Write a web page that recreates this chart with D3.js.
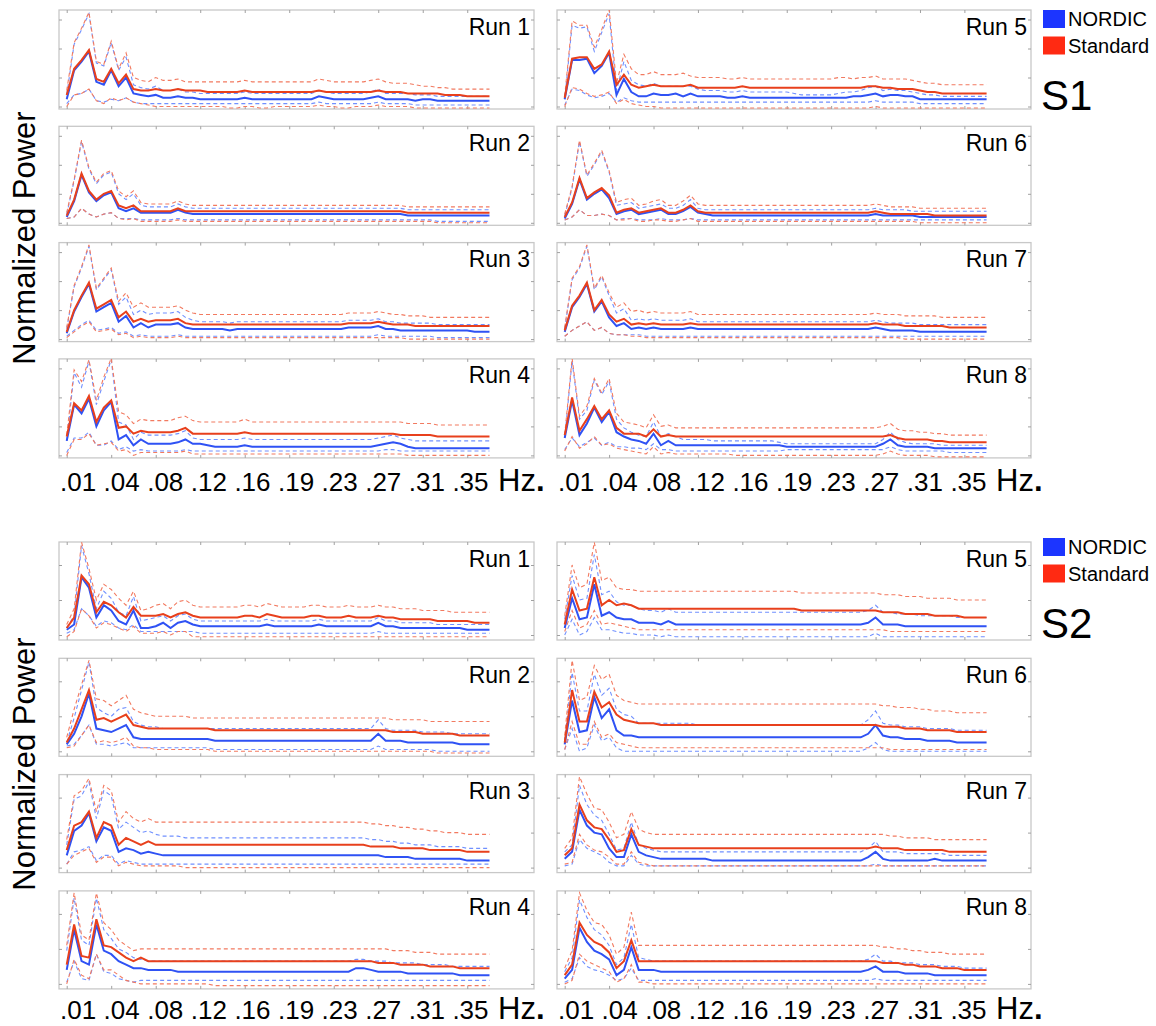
<!DOCTYPE html>
<html>
<head>
<meta charset="utf-8">
<script src="https://cdn.jsdelivr.net/npm/d3@7"></script>
<style>
  body { margin: 0; background: #fff; }
  text { font-family: "Liberation Sans", Arial, sans-serif; }
</style>
</head>
<body>
<div id="chart"></div>
<script>
// x tick labels (Hz), run names, legend
const xTickLabels = [".01", ".04", ".08", ".12", ".16", ".19", ".23", ".27", ".31", ".35"];
const runNames = ["Run 1", "Run 2", "Run 3", "Run 4", "Run 5", "Run 6", "Run 7", "Run 8"];
const methods = ["NORDIC", "Standard"];
const subjects = ["S1", "S2"];

// ---- S1 : normalized power per frequency bin (58 bins), runs 1..8 ----
const s1NordicMean = [
  [5,25,31,38,17,15,25,14,20,9, 8,7,8,6,6,7,6,6,5,5, 5,5,5,5,6,5,5,5,5,5, 5,5,5,5,7,6,5,5,5,5, 5,6,7,5,5,5,5,4,5,5, 4,4,4,4,4,4,4,4],
  [4,15,33,21,15,19,21,10,8,10, 7,7,7,7,7,9,7,6,6,6, 6,6,6,6,6,6,6,6,6,6, 6,6,6,6,6,6,6,6,6,6, 6,6,6,6,6,6,5,5,5,5, 5,5,5,5,5,5,5,5],
  [4,19,29,38,19,22,25,12,16,8, 11,8,10,10,10,11,8,7,7,7, 7,7,6,7,7,7,7,7,7,7, 7,7,7,7,7,7,7,7,8,8, 8,8,9,7,7,6,6,6,6,6, 6,6,6,6,6,5,5,5],
  [10,35,29,39,20,31,37,11,14,7, 11,8,8,8,8,9,11,8,8,7, 6,6,6,6,7,6,6,6,6,6, 6,6,6,6,6,6,6,6,6,6, 6,6,7,8,9,8,6,5,5,5, 5,5,5,5,5,5,5,5],
  [5,32,32,33,23,28,37,8,19,10, 7,7,9,8,8,9,7,9,7,7, 7,7,6,6,7,6,6,6,6,6, 6,6,6,6,6,6,6,6,6,7, 7,8,9,7,8,8,7,7,5,5, 5,5,5,5,5,5,5,5],
  [3,13,30,16,20,23,17,6,8,9, 6,7,8,9,6,6,8,11,7,6, 5,5,5,5,5,5,5,5,5,5, 5,5,5,5,5,5,5,5,5,5, 5,5,6,5,5,5,5,5,4,4, 4,4,4,4,4,4,4,4],
  [5,22,29,38,19,26,15,9,11,7, 8,7,8,7,7,7,7,8,7,7, 7,7,7,7,7,7,7,7,7,7, 7,7,7,7,7,7,7,7,7,7, 7,7,8,7,6,6,6,6,5,5, 5,5,5,5,5,5,5,5],
  [12,38,14,22,33,23,30,16,13,11, 10,8,15,7,10,7,7,7,7,7, 7,7,7,7,7,7,7,7,7,7, 6,6,6,6,6,6,6,6,6,6, 6,6,6,8,11,7,6,6,6,6, 5,5,5,5,5,5,5,5]
];
const s1NordicUpper = [
  [8,43,53,64,30,28,44,25,34,15, 13,12,14,11,11,12,10,10,9,9, 9,9,9,9,10,9,9,9,9,9, 9,9,9,9,11,10,9,9,9,9, 9,10,12,9,9,9,9,8,8,8, 7,7,7,7,7,7,7,7],
  [6,29,56,37,27,33,35,20,16,20, 12,11,11,11,11,13,11,10,10,10, 10,10,10,10,10,10,10,10,10,10, 10,10,10,10,10,10,10,10,10,10, 10,10,10,10,10,10,9,9,9,9, 9,9,9,9,9,9,9,9],
  [7,36,49,64,34,41,48,24,29,17, 20,17,18,18,18,19,15,13,12,12, 12,12,11,12,12,12,12,12,12,12, 12,12,12,12,12,12,12,12,13,13, 13,13,14,12,12,11,11,11,11,11, 10,10,10,10,10,10,10,10],
  [10,57,47,65,35,51,66,23,21,11, 16,14,14,14,14,15,17,12,11,11, 11,11,11,11,12,11,11,11,11,11, 11,11,11,11,11,11,11,11,11,11, 11,11,12,13,14,12,11,10,10,10, 10,10,10,10,10,10,10,10],
  [5,56,54,55,38,51,64,11,31,18, 15,14,16,14,14,14,14,14,12,11, 11,11,10,10,11,10,10,10,10,10, 10,9,8,8,8,8,8,9,10,10, 11,13,14,11,12,11,11,10,9,8, 8,7,7,7,7,7,7,7],
  [5,24,56,32,40,49,35,12,13,14, 10,11,12,13,10,10,12,16,10,9, 9,9,9,9,9,9,9,9,9,9, 9,9,9,9,9,9,9,9,9,9, 9,9,10,9,9,9,9,8,8,8, 8,8,8,8,8,8,8,8],
  [7,41,49,64,34,43,30,18,21,13, 14,13,14,13,13,13,13,14,12,12, 12,12,12,12,12,12,12,12,12,12, 12,12,12,12,12,12,12,12,12,12, 12,12,13,12,11,11,11,11,10,10, 10,10,10,10,10,10,10,10],
  [12,65,25,31,52,42,51,25,19,16, 14,13,23,13,15,13,11,11,11,11, 10,10,10,10,10,10,10,10,10,9, 8,8,8,8,8,8,8,8,8,8, 8,8,8,11,16,11,9,8,8,8, 8,7,7,7,7,7,7,7]
];
const s1NordicLower = [
  [2,8,9,12,4,3,5,4,6,3, 2,2,2,2,2,2,2,2,2,2, 2,2,2,2,2,2,2,2,2,2, 2,2,2,2,3,2,2,2,2,2, 2,2,3,2,2,2,2,1,1,1, 1,1,1,1,1,1,1,1],
  [3,4,10,6,4,6,7,3,3,3, 2,2,2,2,2,3,2,2,2,2, 2,2,2,2,2,2,2,2,2,2, 2,2,2,2,2,2,2,2,2,2, 2,2,2,2,2,2,2,2,2,2, 1,1,1,1,1,1,1,1],
  [2,6,10,13,6,7,8,4,5,2, 3,2,2,2,2,3,2,2,2,2, 2,2,2,2,2,2,2,2,2,2, 2,2,2,2,2,2,2,2,2,2, 2,2,3,2,2,2,2,2,2,2, 1,1,1,1,1,1,1,1],
  [2,12,12,16,7,7,10,4,6,3, 4,3,3,3,3,3,4,3,3,3, 3,3,3,3,3,3,3,3,3,3, 3,3,3,3,3,3,3,3,3,3, 3,3,3,4,4,3,3,3,3,3, 3,3,3,3,3,3,3,3],
  [1,12,11,8,6,7,9,3,6,4, 3,3,3,3,3,3,3,3,3,3, 3,3,3,3,3,3,3,3,3,3, 3,3,3,3,3,3,3,3,3,3, 3,3,4,3,3,3,3,3,2,2, 2,2,2,2,2,2,2,2],
  [2,4,9,5,5,6,5,2,3,3, 2,2,2,3,2,2,2,3,2,2, 2,2,2,2,2,2,2,2,2,2, 2,2,2,2,2,2,2,2,2,2, 2,2,2,2,2,2,2,2,2,2, 2,2,2,2,2,2,2,2],
  [2,6,9,12,6,8,4,3,3,3, 3,2,2,2,2,2,2,2,2,2, 2,2,2,2,2,2,2,2,2,2, 2,2,2,2,2,2,2,2,2,2, 2,2,2,2,2,2,2,2,2,2, 2,2,2,2,2,2,2,2],
  [4,12,6,9,12,7,9,6,6,5, 5,4,8,4,4,3,3,3,3,3, 3,3,3,3,3,3,3,3,3,3, 4,4,4,4,4,4,4,4,4,4, 4,4,4,4,6,4,3,3,3,3, 3,3,2,2,2,2,2,2]
];
const s1StandardMean = [
  [8,26,32,39,19,17,26,16,22,12, 11,11,12,11,11,12,11,11,11,10, 10,10,10,10,11,10,10,10,10,10, 10,10,10,10,11,10,10,10,10,10, 10,10,11,10,10,10,9,9,9,9, 9,8,8,8,7,7,7,7],
  [5,16,34,22,16,20,22,12,10,12, 8,8,8,8,8,10,8,8,8,8, 8,8,8,8,8,8,8,8,8,8, 8,8,8,8,8,8,8,8,8,8, 8,8,8,8,8,8,7,7,7,7, 7,7,7,7,7,7,7,7],
  [5,20,30,39,21,24,27,15,19,12, 14,12,13,13,13,14,11,10,10,10, 10,10,10,10,10,10,10,10,10,10, 10,10,10,10,10,10,10,10,11,11, 11,11,12,11,10,10,10,9,9,9, 9,9,9,9,9,9,9,9],
  [13,36,31,41,23,33,38,19,20,15, 17,16,16,16,16,17,19,15,15,15, 15,15,15,15,16,15,15,15,15,15, 15,15,15,15,15,15,15,15,15,15, 15,15,15,15,15,14,14,14,14,14, 13,13,13,13,13,13,13,13],
  [6,33,34,34,26,29,38,15,22,15, 13,14,15,14,14,14,14,15,13,13, 13,13,13,13,14,13,13,13,13,13, 13,13,13,13,13,13,13,13,13,13, 13,14,14,13,13,12,12,12,11,10, 10,9,9,9,9,9,9,9],
  [4,14,31,17,21,24,19,7,9,10, 7,8,9,10,7,7,9,12,8,7, 7,7,7,7,7,7,7,7,7,7, 7,7,7,7,7,7,7,7,7,7, 7,7,8,7,6,6,6,6,6,6, 5,5,5,5,5,5,5,5],
  [6,23,30,39,20,27,17,12,14,10, 11,10,11,10,10,10,10,11,10,10, 10,10,10,10,10,10,10,10,10,10, 10,10,10,10,10,10,10,10,10,10, 10,10,11,10,10,10,9,9,9,9, 9,9,8,8,8,8,8,8],
  [14,40,17,25,34,25,31,19,15,15, 15,13,18,13,14,13,13,13,13,13, 13,13,13,13,13,13,13,13,13,13, 13,13,13,13,13,13,13,13,13,13, 13,13,13,13,14,12,11,11,11,11, 10,10,9,9,9,9,9,9]
];
const s1StandardUpper = [
  [11,44,54,65,31,29,45,26,37,20, 18,17,20,18,18,19,17,17,17,17, 17,17,17,17,18,17,17,17,17,17, 17,17,17,17,19,18,17,17,17,17, 17,18,19,17,16,16,16,15,14,14, 13,13,12,12,12,12,12,12],
  [7,30,57,38,28,34,36,22,18,22, 14,13,13,13,13,15,13,12,12,12, 12,12,12,12,12,12,12,12,12,12, 12,12,12,12,12,12,12,12,12,12, 12,12,12,12,12,12,11,11,11,11, 11,11,11,11,11,11,11,11],
  [8,37,50,65,35,42,49,26,32,22, 25,22,22,22,22,23,20,18,17,17, 17,17,17,17,17,17,17,17,17,17, 17,17,17,17,17,17,17,17,18,18, 18,18,19,18,17,17,16,16,16,15, 15,15,15,15,15,15,15,15],
  [14,59,51,66,38,54,67,30,28,22, 25,24,24,24,24,26,27,24,23,23, 23,23,23,23,25,23,23,23,23,23, 23,23,23,23,23,23,23,23,23,23, 23,23,23,23,23,23,22,22,22,22, 21,21,21,21,21,21,21,21],
  [7,59,56,56,41,53,67,16,36,26, 22,22,24,22,22,22,23,21,20,20, 20,20,19,19,20,19,19,19,19,19, 19,19,19,19,19,19,19,20,20,19, 20,20,21,19,19,19,19,18,17,16, 16,15,15,15,15,15,15,15],
  [6,25,57,33,41,50,36,14,16,17, 12,13,15,16,12,12,15,19,13,12, 12,12,12,12,12,12,12,12,12,12, 12,12,12,12,12,12,12,12,12,12, 12,12,13,12,11,11,11,11,10,10, 10,10,10,10,10,10,10,10],
  [8,42,50,65,35,44,32,22,25,19, 20,18,19,18,18,18,18,19,17,17, 17,17,17,17,17,17,17,17,17,17, 17,17,17,17,17,17,17,17,17,17, 17,17,18,17,17,17,16,16,16,16, 16,15,15,15,15,15,15,15],
  [14,67,27,34,53,43,53,29,23,22, 21,19,28,20,21,19,19,19,19,19, 19,19,19,19,19,19,19,19,19,19, 19,19,19,19,19,19,19,19,19,19, 19,19,19,20,22,18,17,17,16,16, 15,15,14,14,14,14,14,14]
];
const s1StandardLower = [
  [0,8,9,12,4,2,6,4,6,3, 2,1,0,0,0,0,0,0,0,0, 0,0,-1,-1,0,0,-1,-1,0,0, 0,0,0,0,1,0,0,-1,-1,0, 0,0,1,0,0,0,0,-1,-1,-1, -1,-1,-1,-1,-1,-1,-1,-1],
  [3,4,10,6,4,6,7,3,2,3, 1,1,1,1,1,2,1,1,1,1, 1,1,1,1,1,1,1,1,1,1, 1,1,1,1,1,1,1,1,1,1, 1,1,1,1,1,1,1,1,1,1, 0,0,0,0,0,0,0,0],
  [1,5,9,12,5,6,7,3,4,1, 2,1,1,1,1,2,1,1,1,1, 1,1,1,1,1,1,1,1,1,1, 1,1,1,1,1,1,1,1,1,1, 1,1,1,1,1,1,0,0,0,0, 0,0,0,0,0,0,0,0],
  [0,11,11,15,7,8,9,3,4,0, 2,2,2,2,2,2,3,1,1,1, 1,1,1,1,1,1,1,1,1,1, 1,1,1,1,1,1,1,1,1,1, 1,1,1,1,1,1,0,0,0,0, 0,0,0,0,0,0,0,0],
  [0,13,12,9,7,8,10,2,5,2, 1,0,0,-1,-1,-1,-1,-1,-1,-1, -1,-1,-1,-1,-1,-1,-1,-1,-1,-1, -1,-1,-1,-1,-1,-1,-1,-1,-1,-1, -1,-1,0,-1,-1,-1,-1,-1,-1,-1, -1,-1,-1,-1,-1,-1,-1,-1],
  [2,4,9,5,5,6,5,2,2,3, 1,1,2,2,1,1,2,3,1,1, 1,1,1,1,1,1,1,1,1,1, 1,1,1,1,1,1,1,1,1,1, 1,1,1,1,1,1,1,1,0,0, 0,0,0,0,0,0,0,0],
  [2,6,9,12,6,8,4,3,3,2, 2,1,1,1,1,1,1,1,1,1, 1,1,1,1,1,1,1,1,1,1, 1,1,1,1,1,1,1,1,1,1, 1,1,1,1,1,1,0,0,0,0, 0,0,0,0,0,0,0,0],
  [3,13,5,8,13,7,8,5,4,3, 2,1,6,1,2,1,1,1,1,1, 1,1,1,0,0,0,0,0,0,0, 0,0,0,0,0,0,0,0,0,0, 0,0,0,1,3,1,0,0,0,0, -1,-1,-1,-1,-1,-1,-1,-1]
];

// ---- S2 ----
const s2NordicMean = [
  [3,6,33,27,10,17,14,8,6,14, 4,4,5,7,4,7,8,6,5,5, 5,5,5,5,5,5,5,6,5,5, 5,5,5,5,6,5,5,5,5,5, 5,5,7,5,5,4,4,4,4,4, 4,4,4,4,3,3,3,3],
  [4,10,20,33,13,12,11,13,15,8, 7,7,7,7,7,7,7,7,7,7, 6,6,6,6,6,6,6,6,6,6, 6,6,6,6,6,6,6,6,6,6, 6,6,10,6,6,6,5,5,5,5, 5,5,5,4,4,4,4,4],
  [7,21,24,31,15,23,21,9,11,10, 8,9,8,7,7,7,7,7,7,7, 7,7,7,7,7,7,7,7,7,7, 7,7,7,7,7,7,7,7,7,7, 7,7,7,6,6,6,6,5,5,5, 5,5,5,5,4,4,4,4],
  [8,31,13,11,34,19,17,13,11,9, 9,8,8,8,8,7,7,7,7,7, 7,7,7,7,7,7,7,7,7,7, 7,7,7,7,7,7,7,7,7,9, 9,8,7,7,7,7,6,6,6,6, 6,6,6,5,5,5,5,5],
  [4,21,9,10,29,11,13,10,9,9, 7,7,7,6,8,6,6,6,6,6, 6,6,6,6,6,6,6,6,6,6, 6,6,6,6,6,6,6,6,6,6, 6,7,10,6,6,6,5,5,5,5, 5,5,5,5,5,5,5,5],
  [4,29,11,12,31,19,24,12,9,9, 8,8,8,8,8,8,8,8,8,8, 8,8,8,8,8,8,8,8,8,8, 8,8,8,8,8,8,8,8,8,8, 8,10,15,9,8,8,7,7,7,6, 6,6,6,5,5,5,5,5],
  [5,9,33,24,20,19,11,6,6,19, 9,7,6,5,5,5,5,5,5,5, 4,4,4,4,4,4,4,4,4,4, 4,4,4,4,4,4,4,4,4,4, 4,6,9,5,4,4,4,4,4,4, 5,4,4,4,4,4,4,4],
  [3,8,32,24,19,17,14,5,8,21, 8,8,8,7,7,7,7,7,7,7, 7,7,7,7,7,7,7,7,7,7, 7,7,7,7,7,7,7,7,7,7, 7,8,10,7,7,7,6,6,6,6, 5,5,5,5,5,5,5,5]
];
const s2NordicUpper = [
  [4,11,51,35,15,25,21,13,11,22, 8,9,10,11,8,11,12,9,8,8, 8,8,8,8,8,8,8,9,8,8, 8,8,8,8,9,8,8,8,8,8, 8,8,10,8,8,7,7,7,7,7, 6,6,6,6,6,6,6,6],
  [5,19,35,51,25,22,20,24,25,17, 15,14,14,13,13,13,13,13,13,13, 13,13,13,13,13,13,13,13,13,13, 13,13,13,13,13,13,13,13,13,13, 13,13,18,13,12,12,12,12,11,11, 11,11,10,10,10,10,10,10],
  [13,39,41,49,28,44,41,22,26,23, 20,21,19,18,18,18,17,17,17,17, 17,17,17,17,17,17,17,17,17,17, 17,17,17,17,17,17,17,17,17,17, 17,16,16,15,15,14,14,13,13,13, 12,12,12,12,11,11,11,11],
  [19,49,25,22,49,31,26,20,18,15, 14,13,13,13,13,13,13,13,13,13, 13,13,13,13,13,13,13,13,13,13, 13,13,13,13,13,13,13,13,13,14, 14,13,13,13,12,12,12,12,11,11, 11,11,10,10,10,10,10,10],
  [9,34,20,21,46,23,25,19,17,17, 15,14,14,13,15,13,13,13,13,13, 13,13,13,13,13,13,13,13,13,13, 13,13,13,13,13,13,13,13,13,13, 13,14,17,13,13,12,12,12,11,11, 11,11,11,10,10,10,10,10],
  [6,45,23,23,44,32,36,24,21,20, 16,16,16,16,16,16,16,16,15,15, 15,15,15,15,15,15,15,15,15,15, 15,15,15,15,15,15,15,15,15,15, 15,18,23,16,15,15,14,14,14,13, 13,13,13,12,12,12,12,12],
  [9,13,47,36,30,27,19,10,11,26, 13,11,10,9,9,9,9,9,9,9, 9,9,9,9,9,9,9,9,9,9, 9,9,9,9,9,9,9,9,9,9, 9,11,15,9,9,9,8,8,8,8, 8,8,7,7,7,7,7,7],
  [7,15,48,38,31,28,22,11,15,34, 15,14,13,13,13,13,13,13,13,13, 13,13,13,13,13,13,13,13,13,13, 13,13,13,13,13,13,13,13,13,13, 13,14,17,13,13,12,12,12,11,11, 11,10,10,10,9,9,9,9]
];
const s2NordicLower = [
  [1,3,15,11,5,8,7,4,3,6, 2,2,2,2,2,2,2,2,1,1, 1,1,1,1,1,1,1,1,1,1, 1,1,1,1,1,1,1,1,1,1, 1,1,2,1,1,1,1,1,1,1, 1,1,1,1,1,1,1,1],
  [3,4,9,15,4,4,3,4,5,2, 2,2,2,2,2,2,2,2,2,2, 1,1,1,1,1,1,1,1,1,1, 1,1,1,1,1,1,1,1,1,1, 1,1,3,1,1,1,1,1,1,1, 0,0,0,0,0,0,0,0],
  [2,9,10,12,4,7,7,2,4,3, 2,2,2,2,2,2,2,2,2,2, 2,2,2,2,2,2,2,2,2,2, 2,2,2,2,2,2,2,2,2,2, 2,2,2,2,2,2,2,2,2,2, 2,2,2,2,2,2,2,2],
  [1,13,3,2,17,7,6,3,2,1, 2,2,2,2,2,2,2,2,2,2, 2,2,2,2,2,2,2,2,2,2, 2,2,2,2,2,2,2,2,2,2, 2,2,2,2,2,2,2,2,2,2, 2,2,2,2,2,2,2,2],
  [0,9,0,2,10,3,3,2,1,1, 0,0,0,-1,0,-1,-1,-1,-1,-1, -1,-1,-1,-1,-1,-1,-1,-1,-1,-1, -1,-1,-1,-1,-1,-1,-1,-1,-1,-1, -1,-1,1,-1,-1,-1,-1,-1,-1,-1, -1,-1,-1,-1,-1,-1,-1,-1],
  [1,13,0,2,15,6,8,2,0,0, 0,0,0,0,0,0,0,0,0,0, 0,0,0,0,0,0,0,0,0,0, 0,0,0,0,0,0,0,0,0,0, 0,2,5,1,0,0,0,0,0,0, 0,0,0,0,0,0,0,0],
  [1,2,16,11,9,7,3,1,1,7, 2,1,1,1,1,1,1,1,1,1, 1,1,1,1,1,1,1,1,1,1, 1,1,1,1,1,1,1,1,1,1, 1,1,2,1,1,1,1,1,1,1, 1,1,1,1,1,1,1,1],
  [1,3,15,10,8,7,5,2,3,9, 2,2,2,2,2,2,2,2,2,2, 2,2,2,2,2,2,2,2,2,2, 2,2,2,2,2,2,2,2,2,2, 2,2,3,2,2,2,2,2,2,2, 2,2,2,2,2,2,2,2]
];
const s2StandardMean = [
  [4,10,34,29,13,19,17,13,10,16, 11,11,11,12,10,12,13,11,10,10, 10,10,10,10,11,11,10,12,11,10, 10,10,10,11,11,10,10,10,11,10, 10,10,11,10,10,9,9,9,9,9, 8,8,8,8,8,7,7,7],
  [5,13,24,35,18,19,17,19,21,15, 14,13,13,13,13,13,13,13,13,13, 12,12,12,12,12,12,12,12,12,12, 12,12,12,12,12,12,12,12,12,12, 12,12,12,12,11,11,11,11,10,10, 10,10,10,9,9,9,9,9],
  [10,24,26,32,17,26,24,13,17,15, 13,15,13,13,13,13,13,13,13,13, 13,13,13,13,13,13,13,13,13,13, 13,13,13,13,13,13,13,13,13,13, 13,12,12,12,12,11,11,11,11,10, 10,10,10,10,9,9,9,9],
  [11,34,16,15,37,22,21,18,15,13, 15,13,13,13,13,13,13,13,13,13, 13,13,13,13,13,13,13,13,13,13, 13,13,13,13,13,13,13,13,13,13, 13,13,12,12,12,11,11,11,11,10, 10,10,10,9,9,9,9,9],
  [6,26,14,15,33,17,20,17,18,17, 15,15,15,15,15,15,15,15,15,15, 15,15,15,15,15,15,15,15,15,15, 15,15,14,14,14,14,14,14,14,14, 14,14,14,13,13,13,12,12,12,12, 11,11,11,11,10,10,10,10],
  [5,35,17,17,34,25,28,21,18,17, 16,16,16,15,15,15,15,15,15,15, 15,15,15,15,15,15,15,15,15,15, 15,15,15,15,15,15,15,15,15,15, 15,15,15,14,14,14,13,13,13,12, 12,12,12,11,11,11,11,11],
  [7,11,36,27,23,22,16,9,10,22, 13,12,11,11,11,11,11,11,11,11, 11,11,11,11,11,11,11,11,11,11, 11,11,11,11,11,11,11,11,11,11, 11,11,12,11,11,11,10,10,10,10, 10,10,9,9,9,9,9,9],
  [5,11,35,28,24,22,18,9,13,25, 13,13,13,13,13,13,13,13,13,13, 13,13,13,13,13,13,13,13,13,13, 13,13,13,13,13,13,13,13,13,13, 13,13,13,12,12,12,11,11,10,10, 10,9,9,9,8,8,8,8]
];
const s2StandardUpper = [
  [6,15,53,38,20,29,26,21,17,25, 14,15,17,18,15,19,20,17,16,16, 16,16,16,16,17,17,16,18,17,16, 16,16,16,17,17,16,16,16,17,16, 16,16,17,16,16,15,15,15,14,14, 14,14,13,13,13,13,13,13],
  [8,24,38,52,30,29,26,29,32,24, 22,21,20,20,20,20,20,19,19,19, 19,19,19,19,19,19,19,19,19,19, 19,19,19,19,19,19,19,19,19,19, 19,19,19,19,18,18,18,18,18,17, 17,17,17,17,17,17,17,17],
  [16,41,44,51,32,47,44,26,32,28, 26,28,26,26,26,26,26,26,26,26, 26,26,26,26,26,26,26,26,26,26, 26,26,26,26,26,26,26,26,26,26, 26,25,25,24,24,23,23,22,22,21, 21,20,20,20,19,19,19,19],
  [22,52,28,25,52,35,31,25,22,19, 20,20,20,20,20,20,20,20,20,20, 20,20,20,20,20,20,20,20,20,20, 20,20,20,20,20,20,20,20,20,20, 20,20,20,20,19,19,19,18,18,18, 17,17,17,17,17,17,17,17],
  [11,40,27,29,53,31,33,27,26,26, 25,25,25,25,25,25,25,25,25,25, 25,25,25,25,25,25,25,25,25,25, 25,25,24,24,24,24,24,24,24,24, 24,24,24,23,23,23,22,22,22,21, 21,21,21,20,20,20,20,20],
  [9,52,29,31,49,41,44,32,29,28, 27,27,27,27,27,27,27,27,27,27, 27,27,27,27,27,27,27,27,27,27, 27,27,27,27,27,27,27,27,27,27, 27,27,27,26,26,25,25,25,24,24, 23,23,23,22,22,22,22,22],
  [11,17,52,42,34,33,26,17,19,32, 22,20,19,19,19,19,19,19,19,19, 19,19,19,19,19,19,19,19,19,19, 19,19,19,19,19,19,19,19,19,19, 19,19,19,19,18,18,17,17,17,17, 16,16,16,16,16,16,16,16],
  [9,19,52,42,35,34,28,17,21,41, 22,22,22,22,22,22,22,22,22,22, 22,22,22,22,22,22,22,22,22,22, 22,22,22,22,22,22,22,22,22,22, 22,22,22,21,21,20,20,19,19,18, 18,18,17,17,17,17,17,17]
];
const s2StandardLower = [
  [-1,2,15,11,4,7,6,4,2,5, 1,1,1,2,0,2,2,-1,-1,-1, -1,-1,-1,-1,-1,-1,-1,-1,-1,-1, -1,-1,-1,-1,-1,-1,-1,-1,-1,-1, -1,-1,-1,-1,-1,-1,-1,-1,-1,-1, -1,-1,-1,-1,-1,-1,-1,-1],
  [2,3,9,15,5,6,5,6,8,3, 2,2,1,1,1,1,1,1,1,1, 0,0,0,0,0,0,0,0,0,0, 0,0,0,0,0,0,0,0,0,0, 0,0,0,0,0,0,0,0,0,0, -1,-1,-1,-1,-1,-1,-1,-1],
  [2,7,9,11,3,6,6,1,3,2, 1,1,1,1,1,1,0,0,0,0, 0,0,0,0,0,0,0,0,0,0, 0,0,0,0,0,0,0,0,0,0, 0,0,0,0,0,0,0,0,0,0, 0,0,0,0,0,0,0,0],
  [0,14,5,3,17,8,8,5,2,1, 0,0,0,0,0,0,0,0,0,0, -1,-1,-1,-1,-1,-1,-1,-1,-1,-1, -1,-1,-1,-1,-1,-1,-1,-1,-1,-1, -1,-1,-1,-1,-1,-1,-1,-1,-1,-1, -1,-1,-1,-1,-1,-1,-1,-1],
  [2,14,4,6,14,6,7,6,5,4, 3,3,3,3,3,3,3,3,3,3, 3,3,3,3,3,3,3,3,3,3, 3,3,3,3,3,3,3,3,3,3, 3,3,3,3,2,2,2,2,2,2, 2,2,2,2,2,2,2,2],
  [1,17,4,4,17,8,10,5,4,3, 2,2,2,2,2,2,2,2,2,2, 2,2,2,2,2,2,2,2,2,2, 2,2,2,2,2,2,2,2,2,2, 2,2,2,2,1,1,1,1,1,1, 1,1,1,1,1,1,1,1],
  [2,3,19,13,10,9,6,2,2,9, 3,2,1,1,1,1,1,1,1,1, 1,1,1,1,1,1,1,1,1,1, 1,1,1,1,1,1,1,1,1,1, 1,1,1,1,1,1,1,1,1,1, 1,1,1,1,1,1,1,1],
  [0,2,17,13,11,9,7,1,3,11, 1,1,0,0,0,0,0,0,0,0, 0,0,0,0,0,0,0,0,0,0, 0,0,0,0,0,0,0,0,0,0, 0,0,0,0,0,0,0,0,0,0, 0,0,0,0,0,0,0,0]
];

// ---------------- layout ----------------
const W = 1156, H = 1026;
const colX = [59, 557];
const colW = [475, 474];
const blue = "#2f52f4", red = "#e8401c";
const blueDash = "#7090ff", redDash = "#f27a60";

const sections = [
  {name: subjects[0], top: 10, pitch: 116.3, ph: 99, zeroOff: 2.5, unitPx: 1.45, yTicks: [0, 20, 40, 60],
   labelBase: 491, yLabelC: 238, legTop: 10,
   nm: s1NordicMean, nu: s1NordicUpper, nl: s1NordicLower, sm: s1StandardMean, su: s1StandardUpper, sl: s1StandardLower},
  {name: subjects[1], top: 542, pitch: 116.3, ph: 98, zeroOff: 5, unitPx: 1.75, yTicks: [0, 20, 40],
   labelBase: 1019, yLabelC: 764, legTop: 538,
   nm: s2NordicMean, nu: s2NordicUpper, nl: s2NordicLower, sm: s2StandardMean, su: s2StandardUpper, sl: s2StandardLower}
];

const svg = d3.select("#chart").append("svg")
    .attr("width", W)
    .attr("height", H);

const xTickIdx = xTickLabels.map((d, i) => i * 6);
let clipId = 0;

sections.forEach(function (sec) {
    for (let r = 0; r < 8; r++) {
        const col = r < 4 ? 0 : 1;
        const row = r % 4;
        const x0 = colX[col], w = colW[col];
        const top = sec.top + row * sec.pitch;
        const bottom = top + sec.ph;

        const x = d3.scaleLinear().domain([-1.04, 63]).range([x0, x0 + w]);
        const y = d3.scaleLinear()
            .domain([-sec.zeroOff / sec.unitPx, (sec.ph - sec.zeroOff) / sec.unitPx])
            .range([bottom, top]);

        const g = svg.append("g");

        // frame
        g.append("rect")
            .attr("x", x0).attr("y", top)
            .attr("width", w).attr("height", sec.ph)
            .attr("fill", "none")
            .attr("stroke", "#c8c8c8")
            .attr("stroke-width", 1.3);

        // inward ticks on all four sides
        const axes = [
            [d3.axisLeft(y).tickValues(sec.yTicks), "translate(" + x0 + ",0)"],
            [d3.axisRight(y).tickValues(sec.yTicks), "translate(" + (x0 + w) + ",0)"],
            [d3.axisTop(x).tickValues(xTickIdx), "translate(0," + top + ")"],
            [d3.axisBottom(x).tickValues(xTickIdx), "translate(0," + bottom + ")"]
        ];
        axes.forEach(function (a) {
            const ax = g.append("g")
                .attr("transform", a[1])
                .call(a[0].tickSize(-3).tickFormat(""));
            ax.select(".domain").remove();
            ax.selectAll("line").attr("stroke", "#a0a0a0").attr("stroke-width", 1);
        });

        const cid = "clip" + (clipId++);
        g.append("clipPath").attr("id", cid)
            .append("rect")
            .attr("x", x0).attr("y", top)
            .attr("width", w).attr("height", sec.ph);

        const plot = g.append("g").attr("clip-path", "url(#" + cid + ")");

        const line = d3.line()
            .x(function (d, i) { return x(i); })
            .y(function (d) { return y(d); });

        const dashed = [
            [sec.nu[r], blueDash], [sec.nl[r], blueDash],
            [sec.su[r], redDash], [sec.sl[r], redDash]
        ];
        dashed.forEach(function (s) {
            plot.append("path")
                .attr("d", line(s[0]))
                .attr("fill", "none")
                .attr("stroke", s[1])
                .attr("stroke-width", 1.1)
                .attr("stroke-dasharray", "4,3");
        });

        plot.append("path")
            .attr("d", line(sec.nm[r]))
            .attr("fill", "none")
            .attr("stroke", blue)
            .attr("stroke-width", 2);

        plot.append("path")
            .attr("d", line(sec.sm[r]))
            .attr("fill", "none")
            .attr("stroke", red)
            .attr("stroke-width", 2);

        g.append("text")
            .attr("x", x0 + w - 4)
            .attr("y", top + 24.5)
            .attr("text-anchor", "end")
            .style("font-size", "23px")
            .text(runNames[r]);
    }

    // x tick labels under each column
    colX.forEach(function (x0) {
        const lab = d3.scalePoint()
            .domain(xTickLabels)
            .range([x0 + 1, x0 + 1 + 9 * 43.6]);
        svg.append("g").selectAll("text")
            .data(xTickLabels)
            .enter().append("text")
            .attr("x", function (d) { return lab(d); })
            .attr("y", sec.labelBase)
            .style("font-size", "26px")
            .text(function (d) { return d; });
        const hz = svg.append("text")
            .attr("x", x0 + 439)
            .attr("y", sec.labelBase)
            .style("font-size", "31px");
        hz.append("tspan").text("Hz");
        hz.append("tspan").style("font-weight", "bold").text(".");
    });

    // y axis title
    svg.append("text")
        .attr("transform", "translate(35," + sec.yLabelC + ") rotate(-90)")
        .attr("text-anchor", "middle")
        .style("font-size", "31px")
        .text("Normalized Power");

    // legend
    const lg = svg.append("g");
    [blue, red].forEach(function (c, i) {
        const fill = i === 0 ? "#1c35ff" : "#ff2a12";
        const ly = sec.legTop + i * 26.5;
        lg.append("rect")
            .attr("x", 1043).attr("y", ly)
            .attr("width", 22).attr("height", 18)
            .attr("fill", fill);
        lg.append("text")
            .attr("x", 1068).attr("y", ly + 16)
            .style("font-size", "20px")
            .text(methods[i]);
    });
    lg.append("text")
        .attr("x", 1041).attr("y", sec.legTop + 100)
        .style("font-size", "42px")
        .text(sec.name);
});
</script>
</body>
</html>
